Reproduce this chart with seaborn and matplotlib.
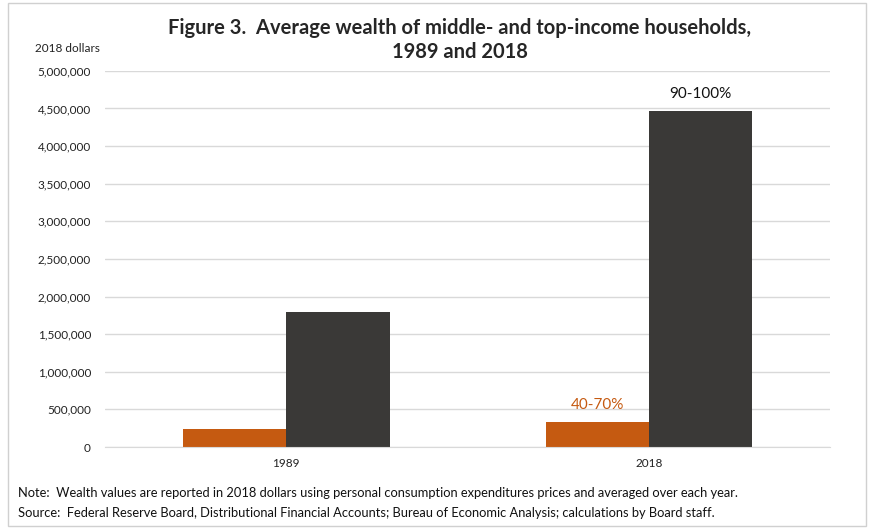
import matplotlib.pyplot as plt
import seaborn as sns
import pandas as pd
from matplotlib.patches import Rectangle

years = ['1989', '2018']
groups = ['40-70%', '90-100%']
middle_wealth = [240000, 335000]
top_wealth = [1800000, 4470000]
y_ticks = [0, 500000, 1000000, 1500000, 2000000, 2500000, 3000000, 3500000, 4000000, 4500000, 5000000]

colors = {'40-70%': '#C55A11', '90-100%': '#3A3937'}

df = pd.DataFrame({
    'year': years * 2,
    'group': [groups[0]] * 2 + [groups[1]] * 2,
    'wealth': middle_wealth + top_wealth,
})

sns.set_style('white')
plt.rcParams['font.family'] = ['Lato', 'DejaVu Sans']

fig = plt.figure(figsize=(8.74, 5.29), dpi=100)
ax = fig.add_axes([0.120, 0.155, 0.830, 0.711])

sns.barplot(data=df, x='year', y='wealth', hue='group', palette=colors,
            width=0.57, saturation=1, linewidth=0, ax=ax, legend=False)

ax.set_ylim(0, 5000000)
ax.set_yticks(y_ticks)
ax.set_yticklabels([f'{v:,.0f}' for v in y_ticks], fontsize=8.5, color='#222222')
ax.tick_params(axis='x', labelsize=8.5, colors='#222222', length=0, pad=8)
ax.tick_params(axis='y', length=0, pad=10)
ax.yaxis.grid(True, color='#D9D9D9', linewidth=1)
ax.set_axisbelow(True)
for s in ['top', 'right', 'left']:
    ax.spines[s].set_visible(False)
ax.spines['bottom'].set_color('#D9D9D9')
ax.set_xlabel('')
ax.set_ylabel('')

# labels above the 2018 bars
ax.text(1 - 0.57 / 4, middle_wealth[1] + 130000, groups[0], ha='center', va='bottom',
        color='#C55A11', fontsize=11)
ax.text(1 + 0.57 / 4, top_wealth[1] + 130000, groups[1], ha='center', va='bottom',
        color='#111111', fontsize=11)

fig.text(0.526, 0.947, 'Figure 3.  Average wealth of middle- and top-income households,',
         ha='center', va='center', fontsize=14.5, fontweight='bold')
fig.text(0.526, 0.902, '1989 and 2018', ha='center', va='center', fontsize=14.5, fontweight='bold')
fig.text(0.040, 0.909, '2018 dollars', ha='left', va='center', fontsize=8.5, color='#222222')

fig.text(0.021, 0.068, 'Note:  Wealth values are reported in 2018 dollars using personal consumption '
         'expenditures prices and averaged over each year.', fontsize=9.3, color='#111111', va='center')
fig.text(0.021, 0.030, 'Source:  Federal Reserve Board, Distributional Financial Accounts; Bureau of '
         'Economic Analysis; calculations by Board staff.', fontsize=9.3, color='#111111', va='center')

fig.patches.append(Rectangle((0.009, 0.005), 0.982, 0.99, transform=fig.transFigure,
                             fill=False, edgecolor='#D0D0D0', linewidth=1))

fig.savefig('out.png', dpi=100)
